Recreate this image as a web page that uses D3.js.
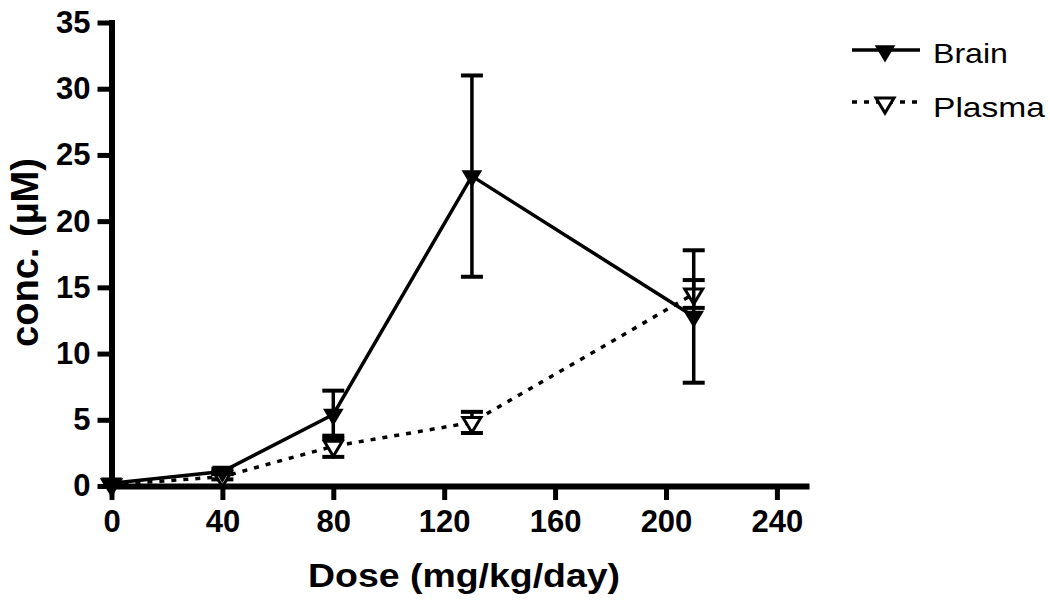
<!DOCTYPE html>
<html>
<head>
<meta charset="utf-8">
<script src="https://cdn.jsdelivr.net/npm/d3@7"></script>
<style>
  html, body { margin: 0; padding: 0; background: #fff; }
  svg { display: block; }
  text { font-family: "Liberation Sans", Arial, sans-serif; fill: #000; }
</style>
</head>
<body>
<svg id="chart" width="1050" height="602"></svg>
<script>
// ---- data ----
const doses = [0, 40, 80, 130, 210];
const brainMean = [0.2, 1.1, 5.4, 23.4, 12.8];
const brainErr  = [0.0, 0.2, 1.8, 7.6, 5.0];
const plasmaMean = [0.1, 0.7, 3.0, 4.8, 14.5];
const plasmaErr  = [0.0, 0.2, 0.8, 0.8, 1.05];
const xTicks = [0, 40, 80, 120, 160, 200, 240];
const yTicks = [0, 5, 10, 15, 20, 25, 30, 35];
const seriesNames = ["Brain", "Plasma"];
const xTitle = "Dose (mg/kg/day)";
const yTitle = "conc. (µM)";

const svg = d3.select("#chart");

const x = d3.scaleLinear().domain([0, 250.5]).range([111.5, 806]);
const y = d3.scaleLinear().domain([0, 35]).range([486, 22.5]);

// down triangle marker path
function tri(cx, cy) {
  const p = d3.path();
  p.moveTo(cx - 9, cy - 5);
  p.lineTo(cx + 9, cy - 5);
  p.lineTo(cx, cy + 10);
  p.closePath();
  return p.toString();
}

const series = [
  { name: seriesNames[1], mean: plasmaMean, err: plasmaErr, dash: "5,7", fill: "#fff" },
  { name: seriesNames[0], mean: brainMean, err: brainErr, dash: null, fill: "#000" }
];

const line = d3.line().x(d => x(d[0])).y(d => y(d[1]));

series.forEach(s => {
  const pts = doses.map((d, i) => [d, s.mean[i], s.err[i]]);
  const g = svg.append("g");
  g.append("path")
    .attr("d", line(pts))
    .attr("fill", "none")
    .attr("stroke", "#000")
    .attr("stroke-width", 3.5)
    .attr("stroke-dasharray", s.dash);
  const eb = g.selectAll("g.eb").data(pts.filter(p => p[2] > 0)).join("g");
  eb.append("line")
    .attr("x1", p => x(p[0])).attr("x2", p => x(p[0]))
    .attr("y1", p => y(p[1] - p[2])).attr("y2", p => y(p[1] + p[2]))
    .attr("stroke", "#000").attr("stroke-width", 3.5);
  [1, -1].forEach(sg => {
    eb.append("line")
      .attr("x1", p => x(p[0]) - 11).attr("x2", p => x(p[0]) + 11)
      .attr("y1", p => y(p[1] + sg * p[2])).attr("y2", p => y(p[1] + sg * p[2]))
      .attr("stroke", "#000").attr("stroke-width", 4);
  });
  g.selectAll("path.m").data(pts).join("path")
    .attr("class", "m")
    .attr("d", p => tri(x(p[0]), y(p[1])))
    .attr("fill", s.fill)
    .attr("stroke", "#000")
    .attr("stroke-width", s.fill === "#fff" ? 3 : 1.5)
    .attr("stroke-linejoin", "miter");
});

// ---- axes ----
const yAxis = svg.append("g")
  .attr("transform", "translate(111.5,0)")
  .call(d3.axisLeft(y).tickValues(yTicks).tickSize(14).tickSizeOuter(0).tickPadding(7));
const xAxis = svg.append("g")
  .attr("transform", "translate(0,486)")
  .call(d3.axisBottom(x).tickValues(xTicks).tickSize(14).tickSizeOuter(0).tickPadding(10));

[yAxis, xAxis].forEach(a => {
  a.select(".domain").attr("stroke", "#000").attr("stroke-width", 6).attr("stroke-linecap", "square");
  a.selectAll(".tick line").attr("stroke", "#000").attr("stroke-width", 5);
  a.selectAll(".tick text")
    .attr("font-size", 31)
    .attr("font-weight", "bold")
    .attr("font-family", "'Liberation Sans', Arial, sans-serif")
    .attr("fill", "#000");
});

// ---- titles ----
svg.append("text")
  .attr("x", 464).attr("y", 587)
  .attr("text-anchor", "middle")
  .attr("font-size", 33).attr("font-weight", "bold")
  .attr("textLength", 312).attr("lengthAdjust", "spacingAndGlyphs")
  .text(xTitle);

svg.append("text")
  .attr("transform", "translate(38,252.5) scale(1.15,1) rotate(-90)")
  .attr("text-anchor", "middle")
  .attr("font-size", 34).attr("font-weight", "bold")
  .attr("textLength", 189).attr("lengthAdjust", "spacingAndGlyphs")
  .text(yTitle);

// ---- legend ----
const legend = [
  { name: seriesNames[0], y: 50, base: 63, len: 75, dash: null, fill: "#000" },
  { name: seriesNames[1], y: 102, base: 117, len: 112, dash: "5,7", fill: "#fff" }
];
legend.forEach(l => {
  svg.append("line")
    .attr("x1", 852).attr("x2", 920).attr("y1", l.y).attr("y2", l.y)
    .attr("stroke", "#000").attr("stroke-width", 3.5)
    .attr("stroke-dasharray", l.dash);
  svg.append("path")
    .attr("d", tri(885, l.y + 1))
    .attr("fill", l.fill).attr("stroke", "#000")
    .attr("stroke-width", l.fill === "#fff" ? 3 : 1.5);
  svg.append("text")
    .attr("x", 933).attr("y", l.base)
    .attr("font-size", 28)
    .attr("textLength", l.len).attr("lengthAdjust", "spacingAndGlyphs")
    .text(l.name);
});
</script>
</body>
</html>
